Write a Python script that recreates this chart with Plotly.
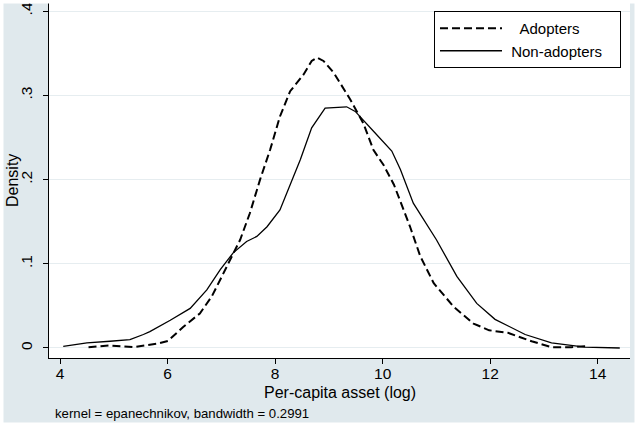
import plotly.graph_objects as go

# kernel density estimates
adopt_x = [4.53, 4.93, 5.36, 5.80, 6.01, 6.29, 6.60, 6.82, 7.01, 7.22, 7.35, 7.53,
           7.72, 7.91, 8.09, 8.28, 8.53, 8.68, 8.78, 8.90, 9.09, 9.40, 9.64, 9.83,
           10.02, 10.21, 10.51, 10.70, 10.95, 11.32, 11.69, 11.98, 12.33, 12.77,
           13.14, 13.51, 13.78]
adopt_y = [0.001, 0.003, 0.001, 0.005, 0.0085, 0.025, 0.041, 0.061, 0.085, 0.113,
           0.1286, 0.160, 0.200, 0.236, 0.275, 0.305, 0.325, 0.341, 0.345, 0.341,
           0.327, 0.295, 0.267, 0.235, 0.217, 0.194, 0.144, 0.109, 0.077, 0.049,
           0.029, 0.021, 0.018, 0.008, 0.001, 0.001, 0.002]

nonadopt_x = [4.06, 4.50, 4.93, 5.30, 5.55, 5.67, 6.05, 6.42, 6.73, 6.98, 7.22, 7.47,
              7.66, 7.85, 8.09, 8.25, 8.47, 8.68, 8.93, 9.33, 9.49, 9.83, 10.17,
              10.33, 10.57, 11.00, 11.38, 11.75, 12.09, 12.65, 13.14, 13.76, 14.41]
nonadopt_y = [0.002, 0.006, 0.008, 0.0099, 0.016, 0.0194, 0.033, 0.047, 0.069, 0.093,
              0.113, 0.1265, 0.1325, 0.144, 0.164, 0.190, 0.224, 0.2615, 0.285,
              0.2865, 0.281, 0.2575, 0.234, 0.212, 0.172, 0.1286, 0.085, 0.053, 0.034,
              0.016, 0.006, 0.001, 0.000]

x_ticks = [4, 6, 8, 10, 12, 14]
y_ticks = [0, 0.1, 0.2, 0.3, 0.4]
y_ticktext = ["0", ".1", ".2", ".3", ".4"]

FONT = "Liberation Sans, Arial, sans-serif"
BG = "#E0E9ED"      # graph region (Stata s2color look)
GRID = "#E6EDF0"
NB = "\u00a0"

fig = go.Figure()
fig.add_trace(go.Scatter(x=adopt_x, y=adopt_y, mode="lines", name=NB * 3 + "Adopters",
                         line=dict(color="black", width=2, dash="8px,4px")))
fig.add_trace(go.Scatter(x=nonadopt_x, y=nonadopt_y, mode="lines",
                         name=NB + "Non-adopters" + NB * 3,
                         line=dict(color="black", width=1.3)))

fig.update_layout(
    width=638, height=426,
    margin=dict(l=49, r=8, t=2, b=68),
    paper_bgcolor=BG,
    plot_bgcolor="white",
    font=dict(family=FONT, size=15.5, color="black"),
    showlegend=True,
    legend=dict(x=0.9845, y=0.9747, xanchor="right", yanchor="top",
                bgcolor="white", bordercolor="black", borderwidth=1,
                font=dict(size=15), itemwidth=62, tracegroupgap=0),
    shapes=[
        # thin white frame around the graph region
        dict(type="rect", xref="paper", yref="paper", layer="above",
             x0=-0.08434, x1=1.01377, y0=-0.19101, y1=1.00562,
             fillcolor="rgba(0,0,0,0)", line=dict(color="white", width=7)),
    ],
    annotations=[
        dict(text="Per-capita asset (log)", xref="paper", yref="paper",
             x=0.5, y=-0.0983, xanchor="center", yanchor="middle", showarrow=False,
             font=dict(size=16)),
        dict(text="Density", xref="paper", yref="paper", textangle=-90,
             x=-0.0637, y=0.5, xanchor="center", yanchor="middle", showarrow=False,
             font=dict(size=16)),
        dict(text="kernel = epanechnikov, bandwidth = 0.2991", xref="paper", yref="paper",
             x=0.0069, y=-0.1545, xanchor="left", yanchor="middle", showarrow=False,
             font=dict(size=13.2)),
    ],
)

fig.update_xaxes(range=[3.795, 14.6], tickvals=x_ticks, showgrid=False, zeroline=False,
                 showline=True, linecolor="black", linewidth=1, automargin=False,
                 ticks="outside", ticklen=5, tickcolor="black", ticklabelstandoff=-4)
fig.update_yaxes(range=[-0.0119, 0.411], tickvals=y_ticks, ticktext=y_ticktext,
                 tickangle=-90, showgrid=True, gridcolor=GRID, gridwidth=1, zeroline=False,
                 showline=True, linecolor="black", linewidth=1, automargin=False,
                 ticks="outside", ticklen=5, tickcolor="black", ticklabelstandoff=5)

# the page body has an 8px default margin; drop it so the figure fills the window
fig.write_html("out.html", config={"displayModeBar": False},
               post_script="document.body.style.margin = '0';")
